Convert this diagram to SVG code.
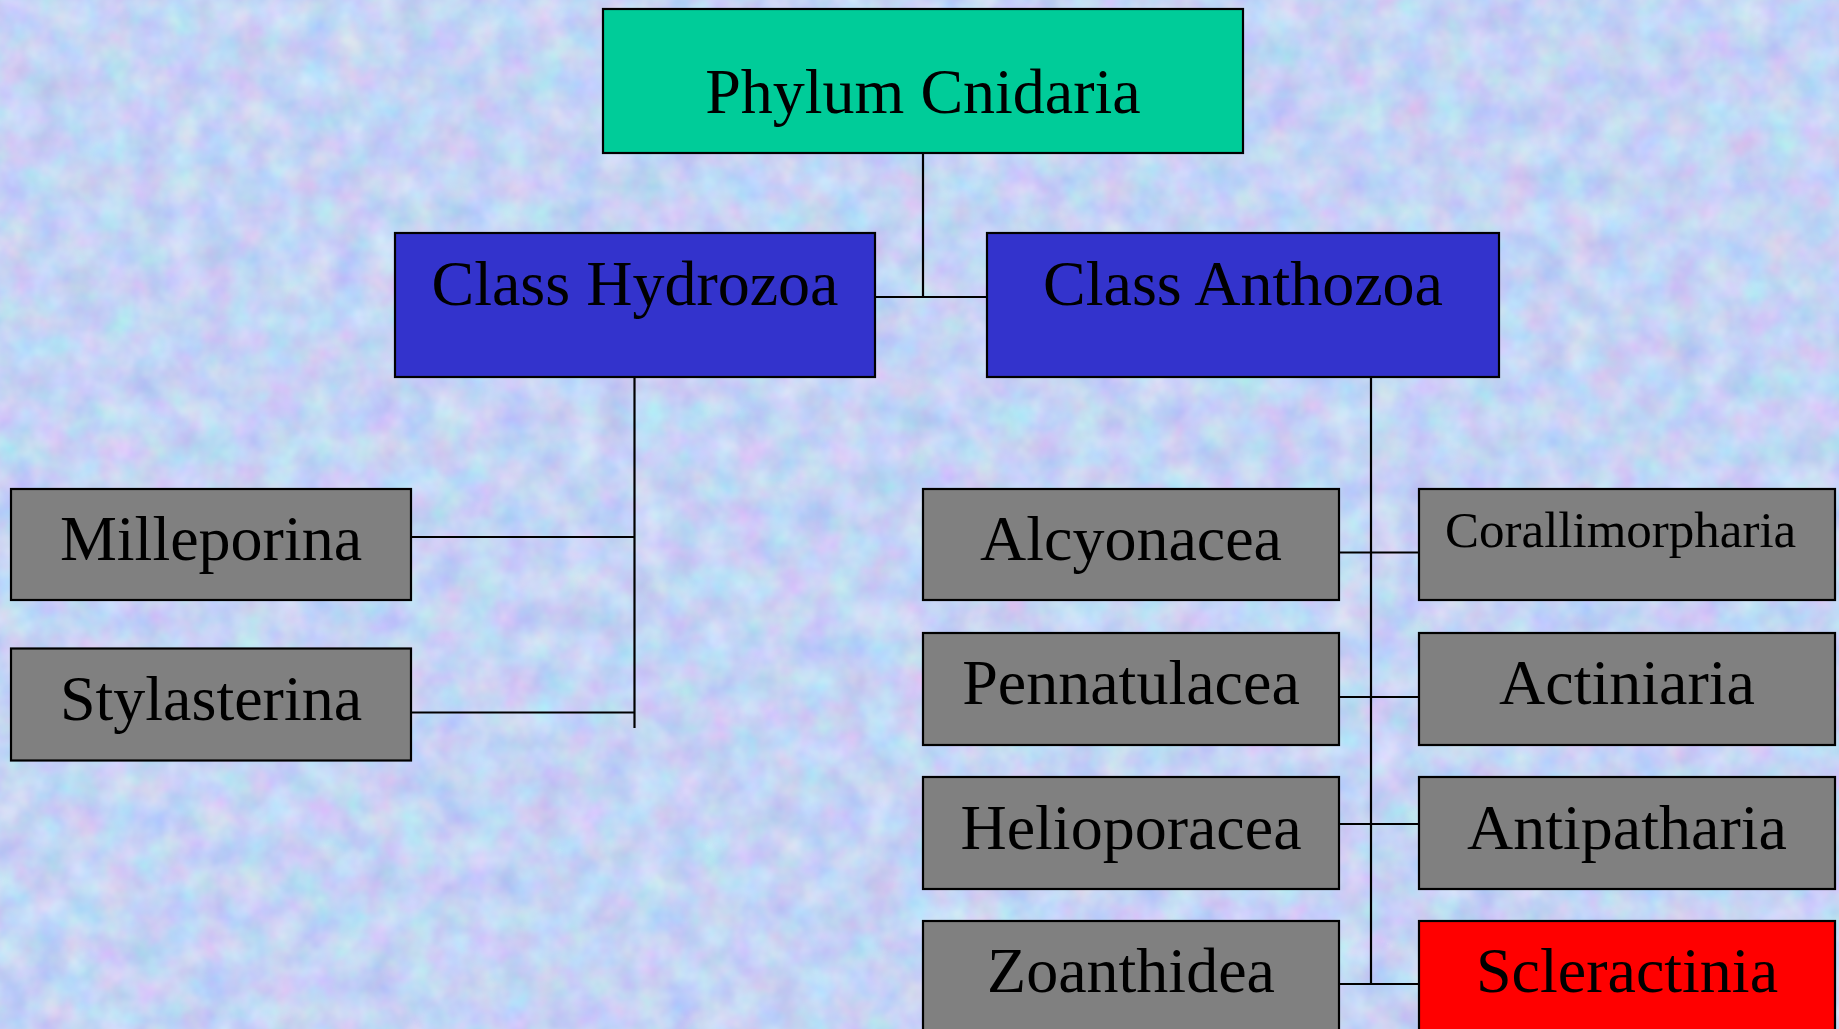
<svg xmlns="http://www.w3.org/2000/svg" width="1839" height="1029" viewBox="0 0 1839 1029">
<defs>
<filter id="mottle" x="0" y="0" width="100%" height="100%" color-interpolation-filters="sRGB">
<feTurbulence type="fractalNoise" baseFrequency="0.03" numOctaves="3" seed="7"/>
<feColorMatrix type="matrix" values="0.26 0 0 0 0.64  0 0.22 0 0 0.72  0 0 0.1 0 0.91  0 0 0 0 1"/>
</filter>
<style>
.box{stroke:#000;stroke-width:2.2}
.green{fill:#00cc99}
.blue{fill:#3333cc}
.grey{fill:#808080}
.red{fill:#ff0000}
.t{font-family:"Liberation Serif","Times New Roman",serif;font-size:64px;fill:#000;text-anchor:middle}
.ts{font-family:"Liberation Serif","Times New Roman",serif;font-size:51px;fill:#000}
.conn line{stroke:#000;stroke-width:2.2}
</style>
</defs>
<rect x="0" y="0" width="1839" height="1029" fill="#c4d4f6"/>
<rect x="0" y="0" width="1839" height="1029" filter="url(#mottle)"/>
<g class="conn">
<line x1="923" y1="153" x2="923" y2="297"/>
<line x1="875" y1="297" x2="987" y2="297"/>
<line x1="634.5" y1="377" x2="634.5" y2="728"/>
<line x1="412" y1="537" x2="634.5" y2="537"/>
<line x1="412" y1="712.5" x2="634.5" y2="712.5"/>
<line x1="1371" y1="377" x2="1371" y2="984"/>
<line x1="1339" y1="552.5" x2="1419" y2="552.5"/>
<line x1="1339" y1="697" x2="1419" y2="697"/>
<line x1="1339" y1="824" x2="1419" y2="824"/>
<line x1="1339" y1="984" x2="1419" y2="984"/>
</g>
<g id="phylum"><rect class="box green" x="603" y="9" width="640" height="144"/><text class="t" x="923" y="113">Phylum Cnidaria</text></g>
<g id="hydrozoa"><rect class="box blue" x="395" y="233" width="480" height="144"/><text class="t" x="635" y="305">Class Hydrozoa</text></g>
<g id="anthozoa"><rect class="box blue" x="987" y="233" width="512" height="144"/><text class="t" x="1243" y="305">Class Anthozoa</text></g>
<g id="milleporina"><rect class="box grey" x="11" y="489" width="400" height="111"/><text class="t" x="211" y="560">Milleporina</text></g>
<g id="stylasterina"><rect class="box grey" x="11" y="648.5" width="400" height="112"/><text class="t" x="211" y="719.5">Stylasterina</text></g>
<g id="alcyonacea"><rect class="box grey" x="923" y="489" width="416" height="111"/><text class="t" x="1131" y="560">Alcyonacea</text></g>
<g id="corallimorpharia"><rect class="box grey" x="1419" y="489" width="416" height="111"/><text class="ts" x="1445" y="547">Corallimorpharia</text></g>
<g id="pennatulacea"><rect class="box grey" x="923" y="633" width="416" height="112"/><text class="t" x="1131" y="704">Pennatulacea</text></g>
<g id="actiniaria"><rect class="box grey" x="1419" y="633" width="416" height="112"/><text class="t" x="1627" y="703.5">Actiniaria</text></g>
<g id="helioporacea"><rect class="box grey" x="923" y="777" width="416" height="112"/><text class="t" x="1131" y="848.5">Helioporacea</text></g>
<g id="antipatharia"><rect class="box grey" x="1419" y="777" width="416" height="112"/><text class="t" x="1627" y="848.5">Antipatharia</text></g>
<g id="zoanthidea"><rect class="box grey" x="923" y="921" width="416" height="120"/><text class="t" x="1131" y="992">Zoanthidea</text></g>
<g id="scleractinia"><rect class="box red" x="1419" y="921" width="416" height="120"/><text class="t" x="1627" y="992">Scleractinia</text></g>
</svg>
